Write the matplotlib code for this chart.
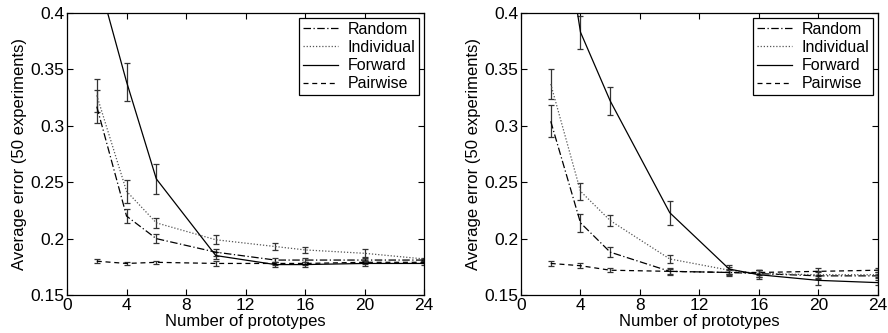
import numpy as np
import matplotlib.pyplot as plt

plt.rcParams['font.family'] = ['Liberation Sans', 'DejaVu Sans']

x = [2, 4, 6, 10, 14, 16, 20, 24]
labels = ['Random', 'Individual', 'Forward', 'Pairwise']

# left panel: means and half-widths of error bars
left_mean = {
    'Random':     [0.317, 0.220, 0.200, 0.188, 0.181, 0.181, 0.181, 0.181],
    'Individual': [0.327, 0.242, 0.214, 0.199, 0.193, 0.190, 0.187, 0.182],
    'Forward':    [0.435, 0.339, 0.253, 0.185, 0.177, 0.177, 0.178, 0.178],
    'Pairwise':   [0.180, 0.178, 0.179, 0.178, 0.178, 0.178, 0.179, 0.179],
}
left_err = {
    'Random':     [0.0145, 0.006, 0.004, 0.003, 0.002, 0.002, 0.002, 0.001],
    'Individual': [0.0145, 0.010, 0.0045, 0.004, 0.003, 0.003, 0.0035, 0.001],
    'Forward':    [0.018, 0.017, 0.0135, 0.003, 0.0025, 0.002, 0.002, 0.001],
    'Pairwise':   [0.0015, 0.0012, 0.0012, 0.002, 0.0015, 0.0015, 0.0015, 0.001],
}

# right panel
right_mean = {
    'Random':     [0.304, 0.214, 0.188, 0.171, 0.170, 0.169, 0.167, 0.167],
    'Individual': [0.337, 0.242, 0.216, 0.182, 0.172, 0.169, 0.168, 0.168],
    'Forward':    [0.550, 0.383, 0.322, 0.223, 0.173, 0.168, 0.163, 0.161],
    'Pairwise':   [0.178, 0.176, 0.172, 0.171, 0.170, 0.170, 0.171, 0.172],
}
right_err = {
    'Random':     [0.014, 0.008, 0.0045, 0.003, 0.003, 0.003, 0.003, 0.002],
    'Individual': [0.013, 0.0075, 0.005, 0.0035, 0.003, 0.003, 0.003, 0.002],
    'Forward':    [0.02, 0.0145, 0.012, 0.0105, 0.004, 0.004, 0.004, 0.002],
    'Pairwise':   [0.0025, 0.002, 0.0018, 0.002, 0.0025, 0.0025, 0.003, 0.002],
}

styles = {'Random': (0, (6, 2, 1, 2)), 'Individual': (0, (1, 1.5)),
          'Forward': '-', 'Pairwise': (0, (4, 3))}
line_col = {'Random': 'black', 'Individual': '#555555', 'Forward': 'black', 'Pairwise': 'black'}

fig = plt.figure(figsize=(8.88, 3.33), dpi=100)
ax1 = fig.add_axes([0.0755, 0.114, 0.402, 0.847])
ax2 = fig.add_axes([0.5867, 0.114, 0.402, 0.847])

for ax, means, errs in [(ax1, left_mean, left_err), (ax2, right_mean, right_err)]:
    for lab in labels:
        ax.errorbar(x, means[lab], yerr=errs[lab], color=line_col[lab],
                    ecolor='#333333', linestyle=styles[lab], linewidth=0.9,
                    elinewidth=0.9, capsize=2.5, capthick=0.9, label=lab)
    ax.set_xlim(0, 24)
    ax.set_ylim(0.15, 0.4)
    ax.set_xticks([0, 4, 8, 12, 16, 20, 24])
    ax.set_yticks([0.15, 0.2, 0.25, 0.3, 0.35, 0.4])
    ax.set_yticklabels(['0.15', '0.2', '0.25', '0.3', '0.35', '0.4'])
    ax.tick_params(direction='in', top=True, right=True, labelsize=12.5,
                   length=4, width=0.8, pad=2)
    for sp in ax.spines.values():
        sp.set_linewidth(0.9)
    ax.set_xlabel('Number of prototypes', fontsize=12, labelpad=1)
    ax.set_ylabel('Average error (50 experiments)', fontsize=12, labelpad=2)
    handles, hl = ax.get_legend_handles_labels()
    handles = [h[0] for h in handles]
    leg = ax.legend(handles, hl, loc='upper right', fontsize=11.5,
                    frameon=True, fancybox=False, edgecolor='black',
                    framealpha=1, borderaxespad=0.3, handlelength=2.2,
                    handletextpad=0.6, labelspacing=0.2, borderpad=0.25)
    leg.get_frame().set_linewidth(0.9)

fig.savefig('out.png', dpi=100)
